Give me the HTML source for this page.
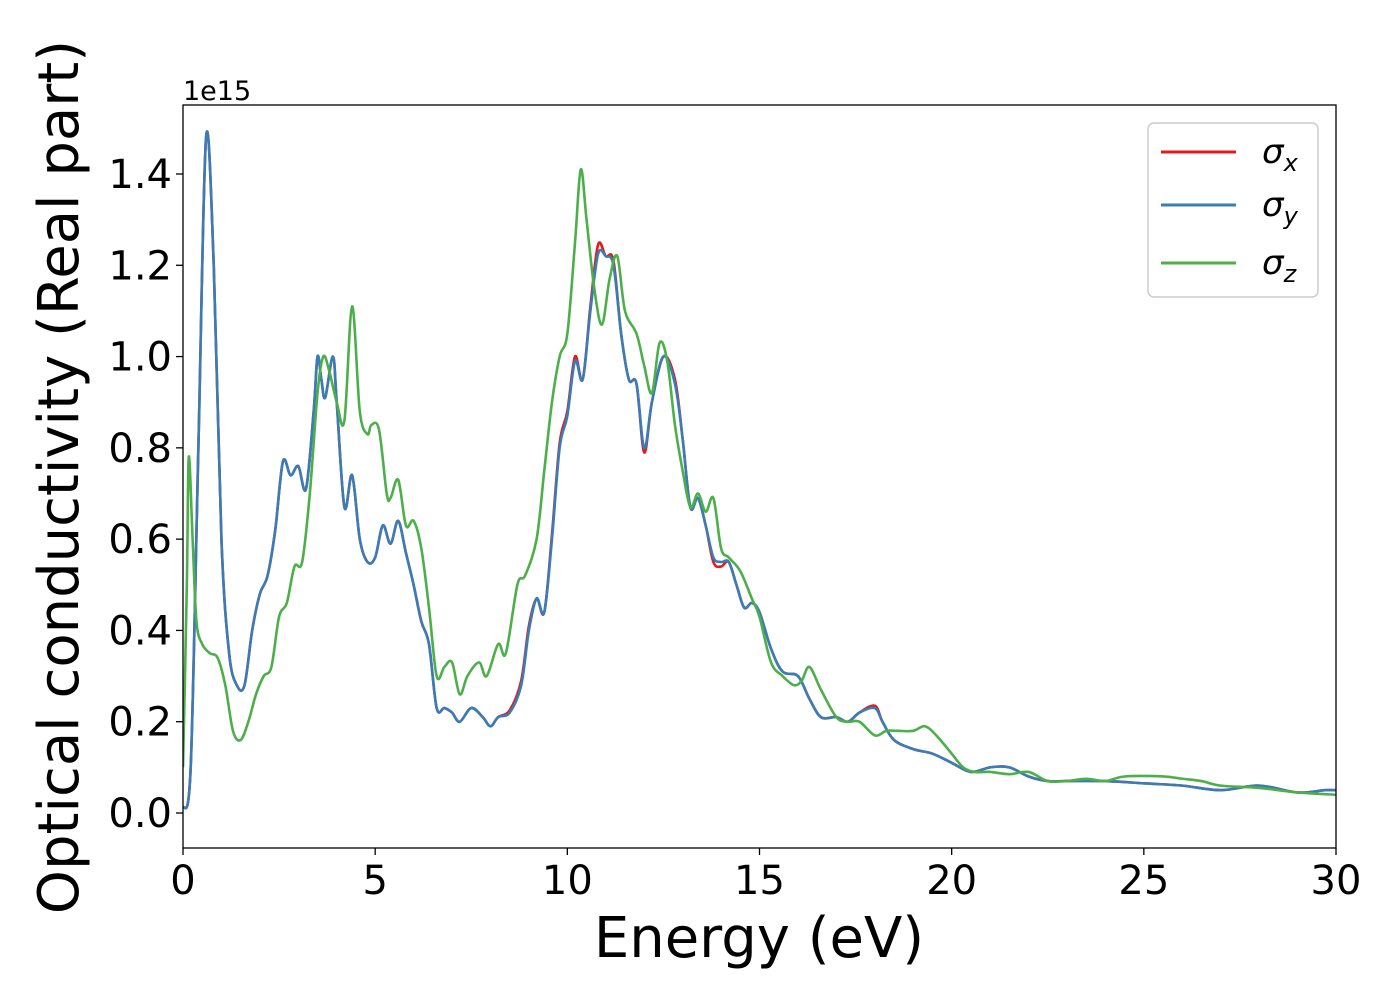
<!DOCTYPE html>
<html><head><meta charset="utf-8"><style>
body{margin:0;background:#fff;}
svg text{font-family:"DejaVu Sans","Liberation Sans",sans-serif;fill:#000;}
</style></head><body>
<svg id="chart" width="1400" height="1000" xmlns="http://www.w3.org/2000/svg">
<rect x="0" y="0" width="1400" height="1000" fill="#fff"/>
<g id="plot"></g>
<g id="axes"></g>
<text x="183" y="100" font-size="27">1e15</text>
<text x="759" y="957" font-size="56" text-anchor="middle">Energy (eV)</text>
<text transform="translate(78,477) rotate(-90)" font-size="56" text-anchor="middle">Optical conductivity (Real part)</text>
<g>
<rect x="1148" y="123" width="170" height="174" rx="6" fill="#fff" fill-opacity="0.8" stroke="#ccc" stroke-width="1.5"/>
<line x1="1161" y1="152" x2="1236" y2="152" stroke="#e41a1c" stroke-width="3"/>
<text x="1262" y="163" font-size="34" font-style="italic">σ<tspan font-size="24" dy="8">x</tspan></text>
<line x1="1161" y1="205" x2="1236" y2="205" stroke="#377eb8" stroke-width="3"/>
<text x="1262" y="216" font-size="34" font-style="italic">σ<tspan font-size="24" dy="8">y</tspan></text>
<line x1="1161" y1="263" x2="1236" y2="263" stroke="#4daf4a" stroke-width="3"/>
<text x="1262" y="274" font-size="34" font-style="italic">σ<tspan font-size="24" dy="8">z</tspan></text>
</g>
</svg>
<script>
const xTicks=[0,5,10,15,20,25,30];
const yTicks=[0,0.2,0.4,0.6,0.8,1.0,1.2,1.4];
const eBlue=[0,0.2,0.4,0.6,0.8,1.0,1.2,1.4,1.6,1.8,2.0,2.2,2.4,2.6,2.8,3.0,3.2,3.4,3.5,3.6,3.7,3.9,4.0,4.2,4.4,4.6,4.8,5.0,5.2,5.4,5.6,5.8,6.0,6.2,6.4,6.6,6.8,7.0,7.2,7.5,7.8,8.0,8.2,8.5,8.8,9.0,9.2,9.4,9.6,9.8,10.0,10.2,10.4,10.6,10.8,11.0,11.2,11.4,11.6,11.8,12.0,12.2,12.5,12.8,13.0,13.2,13.4,13.6,13.8,14.0,14.2,14.4,14.6,14.8,15.0,15.3,15.6,16.0,16.3,16.6,17.0,17.3,17.6,18.0,18.2,18.5,19.0,19.5,20.0,20.5,21,21.5,22,22.5,23,24,25,26,27,28,29,29.7,30];
const sigY=[0.01,0.1,0.8,1.48,1.2,0.6,0.35,0.28,0.28,0.4,0.48,0.52,0.62,0.77,0.74,0.76,0.71,0.88,1.0,0.95,0.91,1.0,0.9,0.67,0.74,0.6,0.55,0.56,0.63,0.59,0.64,0.57,0.5,0.42,0.37,0.23,0.23,0.22,0.2,0.23,0.21,0.19,0.21,0.22,0.28,0.4,0.47,0.44,0.6,0.8,0.87,0.99,0.95,1.1,1.225,1.22,1.2,1.05,0.95,0.94,0.8,0.9,1.0,0.94,0.82,0.67,0.69,0.63,0.56,0.55,0.55,0.5,0.45,0.46,0.44,0.36,0.31,0.3,0.25,0.21,0.21,0.2,0.22,0.23,0.2,0.16,0.14,0.13,0.11,0.09,0.1,0.1,0.08,0.07,0.07,0.07,0.065,0.06,0.05,0.06,0.045,0.05,0.05];
const sigX=[0.01,0.1,0.8,1.48,1.2,0.6,0.35,0.28,0.28,0.4,0.48,0.52,0.62,0.77,0.74,0.76,0.71,0.88,1.0,0.95,0.91,1.0,0.9,0.67,0.74,0.6,0.55,0.56,0.63,0.59,0.64,0.57,0.5,0.42,0.37,0.23,0.23,0.22,0.2,0.23,0.21,0.19,0.21,0.225,0.29,0.41,0.47,0.44,0.61,0.81,0.88,1.0,0.95,1.11,1.245,1.22,1.21,1.05,0.95,0.94,0.79,0.9,1.0,0.95,0.82,0.67,0.69,0.63,0.55,0.54,0.55,0.5,0.45,0.46,0.44,0.36,0.31,0.3,0.25,0.21,0.21,0.2,0.22,0.235,0.2,0.16,0.14,0.13,0.11,0.09,0.1,0.1,0.08,0.07,0.07,0.07,0.065,0.06,0.05,0.06,0.045,0.05,0.05];
const eGreen=[0,0.1,0.15,0.25,0.35,0.5,0.7,0.9,1.1,1.3,1.5,1.7,1.9,2.1,2.3,2.5,2.7,2.9,3.1,3.3,3.5,3.65,3.8,4.0,4.2,4.4,4.6,4.8,4.9,5.1,5.3,5.4,5.6,5.8,6.0,6.2,6.4,6.6,6.8,7.0,7.2,7.4,7.7,7.9,8.2,8.4,8.7,8.9,9.2,9.4,9.6,9.8,10.0,10.2,10.35,10.5,10.7,10.9,11.1,11.3,11.5,11.8,12.0,12.2,12.4,12.6,12.8,13.0,13.2,13.4,13.6,13.8,14.0,14.2,14.5,14.8,15.0,15.3,15.6,15.9,16.1,16.3,16.6,17.0,17.3,17.6,18.0,18.3,18.6,19.0,19.3,19.6,20.0,20.3,20.6,21,21.5,22,22.5,23,23.5,24,24.5,25.5,26,26.5,27,28,29,30];
const sigZ=[0.1,0.5,0.78,0.6,0.42,0.37,0.35,0.34,0.28,0.18,0.16,0.2,0.26,0.3,0.32,0.43,0.46,0.54,0.55,0.7,0.92,1.0,0.97,0.9,0.86,1.11,0.88,0.83,0.85,0.84,0.7,0.69,0.73,0.63,0.64,0.58,0.45,0.3,0.32,0.33,0.26,0.3,0.33,0.3,0.37,0.35,0.5,0.52,0.6,0.75,0.9,1.0,1.05,1.25,1.41,1.3,1.15,1.07,1.17,1.22,1.1,1.05,0.98,0.92,1.03,0.99,0.85,0.75,0.67,0.7,0.66,0.69,0.58,0.56,0.53,0.47,0.43,0.33,0.3,0.28,0.29,0.32,0.27,0.21,0.2,0.2,0.17,0.18,0.18,0.18,0.19,0.17,0.13,0.1,0.09,0.09,0.085,0.09,0.07,0.07,0.075,0.07,0.08,0.08,0.075,0.07,0.06,0.055,0.045,0.04];
const X0=183,X1=1336,YT=105,YB=848;
const xs=v=>X0+(v/30)*(X1-X0);
const ys=v=>813-(v/1.4)*(813-174);
const NS="http://www.w3.org/2000/svg";
const plot=document.getElementById('plot'),axes=document.getElementById('axes');
const cp=document.createElementNS(NS,'clipPath');cp.id='clip';
const cr=document.createElementNS(NS,'rect');
cr.setAttribute('x',X0);cr.setAttribute('y',YT);cr.setAttribute('width',X1-X0);cr.setAttribute('height',YB-YT);
cp.appendChild(cr);plot.appendChild(cp);
function pathD(xa,ya){const p=xa.map((x,i)=>[xs(x),ys(ya[i])]);let d='M'+p[0][0]+','+p[0][1];
for(let i=0;i<p.length-1;i++){const a=p[Math.max(0,i-1)],b=p[i],c=p[i+1],e=p[Math.min(p.length-1,i+2)];
const c1x=b[0]+(c[0]-a[0])/6,c1y=b[1]+(c[1]-a[1])/6,c2x=c[0]-(e[0]-b[0])/6,c2y=c[1]-(e[1]-b[1])/6;
d+=` C${c1x},${c1y} ${c2x},${c2y} ${c[0]},${c[1]}`;}return d;}
function addLine(xa,ya,color,name){const p=document.createElementNS(NS,'path');
p.setAttribute('d',pathD(xa,ya));p.setAttribute('fill','none');p.setAttribute('stroke',color);p.setAttribute('stroke-width','2.6');p.setAttribute('clip-path','url(#clip)');


plot.appendChild(p);}
addLine(eBlue,sigX,'#e41a1c','series-sigma-x');
addLine(eBlue,sigY,'#377eb8','series-sigma-y');
addLine(eGreen,sigZ,'#4daf4a','series-sigma-z');
const fr=document.createElementNS(NS,'rect');
fr.setAttribute('x',X0);fr.setAttribute('y',YT);fr.setAttribute('width',X1-X0);fr.setAttribute('height',YB-YT);fr.setAttribute('fill','none');fr.setAttribute('stroke','#000');fr.setAttribute('stroke-width','1.3');


axes.appendChild(fr);
xTicks.forEach(t=>{const l=document.createElementNS(NS,'line');l.setAttribute('x1',xs(t));l.setAttribute('x2',xs(t));l.setAttribute('y1',YB);l.setAttribute('y2',YB+7);l.setAttribute('stroke','#000');l.setAttribute('stroke-width','1.3');


axes.appendChild(l);
const tx=document.createElementNS(NS,'text');tx.setAttribute('x',xs(t));tx.setAttribute('y',894);tx.setAttribute('font-size','40');tx.setAttribute('text-anchor','middle');tx.textContent=t;


axes.appendChild(tx);});
yTicks.forEach(t=>{const l=document.createElementNS(NS,'line');l.setAttribute('x1',X0-7);l.setAttribute('x2',X0);l.setAttribute('y1',ys(t));l.setAttribute('y2',ys(t));l.setAttribute('stroke','#000');l.setAttribute('stroke-width','1.3');


axes.appendChild(l);
const tx=document.createElementNS(NS,'text');tx.setAttribute('x',X0-11);tx.setAttribute('y',ys(t)+14);tx.setAttribute('font-size','40');tx.setAttribute('text-anchor','end');tx.textContent=t.toFixed(1);


axes.appendChild(tx);});
</script>
</body></html>
